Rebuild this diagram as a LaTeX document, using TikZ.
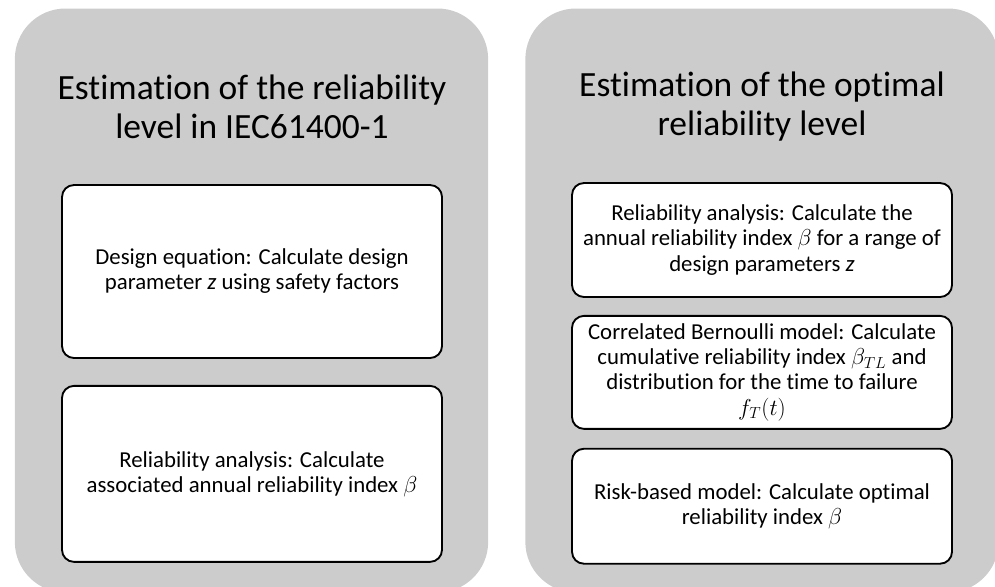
\documentclass[tikz,border=0pt]{standalone}
\usepackage{fontspec}
\setmainfont[RawFeature={-liga;-clig;-calt;-dlig}]{Carlito}
\usetikzlibrary{positioning}
\usepackage{xcolor}
\usepackage{amsmath}

\definecolor{panelgray}{HTML}{CCCCCC}

\begin{document}
\begin{tikzpicture}[
    x=0.75pt, y=-0.75pt,
    node distance=19.5pt,
    panel/.style={rectangle, fill=panelgray, rounded corners=38pt, minimum width=355pt, minimum height=438pt, inner sep=0pt},
    heading/.style={align=center, font=\fontsize{26.6}{29.3}\selectfont},
    box/.style={rectangle, draw, line width=1.4pt, rounded corners=9pt, fill=white, minimum width=285pt, align=center, font=\fontsize{17.1}{18.8}\selectfont}
]
    \useasboundingbox (0,0) rectangle (995,586);

    % panels
    \node[panel] (left) at (251.5,300.5) {};
    \node[panel] (right) at (762,300.5) {};

    \node[heading] (lefttitle) at (252,107) {Estimation of the reliability\\level in IEC61400-1};
    \node[heading] (righttitle) at (762,107) {Estimation of the optimal\\reliability level};

    % left column
    \node[box, minimum height=129.75pt] (design) at (252,271.5) {Design equation: Calculate design\\parameter \textit{z} using safety factors};
    \node[box, minimum height=132pt, below=of design] (annual) {Reliability analysis: Calculate\\associated annual reliability index $\beta$};

    % right column
    \node[box, minimum height=85.5pt] (range) at (762,240) {Reliability analysis: Calculate the\\annual reliability index $\beta$ for a range of\\design parameters \textit{z}};
    \node[box, minimum height=84.75pt, below=12.75pt of range] (bernoulli) {Correlated Bernoulli model: Calculate\\cumulative reliability index $\beta_{TL}$ and\\distribution for the time to failure\\$f_T(t)$};
    \node[box, minimum height=86.25pt, below=13.5pt of bernoulli] (risk) {Risk-based model: Calculate optimal\\reliability index $\beta$};
\end{tikzpicture}
\end{document}
